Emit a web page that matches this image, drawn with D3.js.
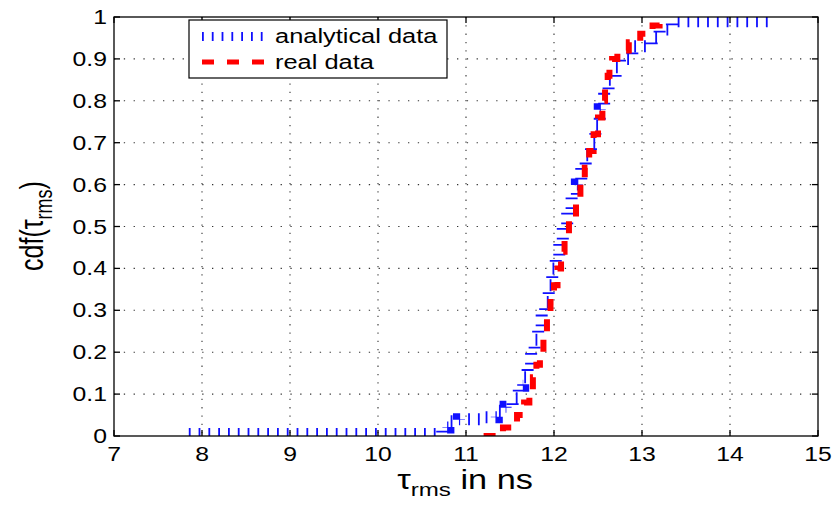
<!DOCTYPE html>
<html>
<head>
<meta charset="utf-8">
<script src="https://d3js.org/d3.v7.min.js"></script>
<style>
  body { margin: 0; background: #fff; }
  text { font-family: "Liberation Sans", Arial, sans-serif; fill: #000; }
</style>
</head>
<body>
<script>
// Data
// analytical cdf: step positions (ns) and levels after each step
const analyticalX = [7.85, 10.73, 10.8, 10.92, 11.05, 11.2, 11.35, 11.45, 11.53, 11.6, 11.65, 11.7, 11.74,
  11.78, 11.82, 11.86, 11.9, 11.94, 11.98, 12.02, 12.06, 12.1, 12.15, 12.2, 12.26, 12.31, 12.36, 12.42,
  12.47, 12.52, 12.57, 12.62, 12.7, 12.75, 12.89, 13.11, 13.2, 13.34, 14.45];
const analyticalY = [0.005, 0.02, 0.035, 0.04, 0.04, 0.045, 0.06, 0.07, 0.09, 0.12, 0.14, 0.17, 0.2,
  0.23, 0.26, 0.29, 0.32, 0.36, 0.4, 0.43, 0.46, 0.5, 0.54, 0.57, 0.6, 0.64, 0.67, 0.7,
  0.74, 0.78, 0.82, 0.85, 0.88, 0.9, 0.93, 0.95, 0.97, 0.99, 0.99];

// measured cdf
const realX = [11.2, 11.42, 11.58, 11.66, 11.72, 11.76, 11.8, 11.84, 11.88, 11.92, 11.96, 12.0, 12.04,
  12.08, 12.12, 12.17, 12.25, 12.3, 12.35, 12.4, 12.45, 12.5, 12.55, 12.58, 12.61, 12.63, 12.66,
  12.72, 12.85, 12.98, 13.12, 13.2];
const realY = [0, 0.02, 0.05, 0.08, 0.11, 0.14, 0.17, 0.2, 0.24, 0.28, 0.32, 0.36, 0.4,
  0.44, 0.48, 0.52, 0.56, 0.6, 0.64, 0.68, 0.72, 0.76, 0.8, 0.83, 0.86, 0.88, 0.9,
  0.92, 0.94, 0.96, 0.98, 1.0];

const xTicks = [7, 8, 9, 10, 11, 12, 13, 14, 15];
const yTicks = [0, 0.1, 0.2, 0.3, 0.4, 0.5, 0.6, 0.7, 0.8, 0.9, 1];
const legendLabels = ["analytical data", "real data"];

// Dimensions
const W = 836, H = 509;
const pLeft = 114, pRight = 818, pTop = 17, pBottom = 436;
const stretch = 1.27; // text in the picture is widened

const svg = d3.select("body").append("svg")
  .attr("width", W).attr("height", H);

const x = d3.scaleLinear().domain([7, 15]).range([pLeft, pRight]);
const y = d3.scaleLinear().domain([0, 1]).range([pBottom, pTop]);

// helper for widened text
function label(g, px, py, str, anchor, size) {
  return g.append("text")
    .attr("transform", `translate(${px},${py}) scale(${stretch},1)`)
    .attr("text-anchor", anchor)
    .style("font-size", size + "px")
    .text(str);
}

svg.append("defs").append("clipPath").attr("id", "plotclip")
  .append("rect").attr("x", pLeft).attr("y", pTop)
  .attr("width", pRight - pLeft).attr("height", pBottom - pTop);

// grid
const grid = svg.append("g");
grid.selectAll(".gx").data(xTicks.slice(1, -1)).enter().append("line")
  .attr("x1", d => x(d)).attr("x2", d => x(d))
  .attr("y1", pTop).attr("y2", pBottom)
  .attr("stroke", "#333").attr("stroke-width", 1.1).attr("stroke-dasharray", "1.3,7");
grid.selectAll(".gy").data(yTicks.slice(1, -1)).enter().append("line")
  .attr("x1", pLeft).attr("x2", pRight)
  .attr("y1", d => y(d)).attr("y2", d => y(d))
  .attr("stroke", "#333").attr("stroke-width", 1.1).attr("stroke-dasharray", "1.3,8.5");

// curves
const stairs = d3.line().x(d => x(d[0])).y(d => y(d[1])).curve(d3.curveStepAfter);
const plot = svg.append("g").attr("clip-path", "url(#plotclip)");

plot.append("path")
  .datum(analyticalX.map((v, i) => [v, analyticalY[i]]))
  .attr("fill", "none").attr("stroke", "#1010ff")
  .attr("stroke-width", 12).attr("stroke-dasharray", "1.8,8")
  .attr("d", stairs);

plot.append("path")
  .datum(realX.map((v, i) => [v, realY[i]]))
  .attr("fill", "none").attr("stroke", "#ff0000")
  .attr("stroke-width", 6).attr("stroke-dasharray", "12,12")
  .attr("d", stairs);

// axes box and ticks
const ax = svg.append("g").attr("stroke", "#000").attr("stroke-width", 1.3);
ax.append("rect").attr("x", pLeft).attr("y", pTop)
  .attr("width", pRight - pLeft).attr("height", pBottom - pTop).attr("fill", "none");
const tl = 6;
xTicks.forEach(t => {
  ax.append("line").attr("x1", x(t)).attr("x2", x(t)).attr("y1", pBottom).attr("y2", pBottom - tl);
  ax.append("line").attr("x1", x(t)).attr("x2", x(t)).attr("y1", pTop).attr("y2", pTop + tl);
});
yTicks.forEach(t => {
  ax.append("line").attr("x1", pLeft).attr("x2", pLeft + tl).attr("y1", y(t)).attr("y2", y(t));
  ax.append("line").attr("x1", pRight).attr("x2", pRight - tl).attr("y1", y(t)).attr("y2", y(t));
});

// tick labels
const tg = svg.append("g");
xTicks.forEach(t => label(tg, x(t), pBottom + 25, d3.format("d")(t), "middle", 19.5));
yTicks.forEach(t => label(tg, pLeft - 7, y(t) + 7, t === 0 || t === 1 ? String(t) : d3.format(".1f")(t), "end", 19.5));

// axis titles
const xt = svg.append("text")
  .attr("transform", `translate(465,489) scale(${stretch},1)`)
  .attr("text-anchor", "middle").style("font-size", "27px");
xt.append("tspan").text("τ");
xt.append("tspan").attr("dy", 7).style("font-size", "19px").text("rms");
xt.append("tspan").attr("dy", -7).text(" in ns");

const yt = svg.append("text")
  .attr("transform", `translate(43,226) rotate(-90) scale(1,1.35)`)
  .attr("text-anchor", "middle").style("font-size", "25px");
yt.append("tspan").text("cdf(τ");
yt.append("tspan").attr("dy", 7).style("font-size", "18px").text("rms");
yt.append("tspan").attr("dy", -7).text(")");

// legend
const lg = svg.append("g");
lg.append("rect").attr("x", 189).attr("y", 20).attr("width", 258).attr("height", 58)
  .attr("fill", "#fff").attr("stroke", "#000").attr("stroke-width", 1.2);
lg.append("line").attr("x1", 202).attr("x2", 264).attr("y1", 36.5).attr("y2", 36.5)
  .attr("stroke", "#1010ff").attr("stroke-width", 9).attr("stroke-dasharray", "1.8,8");
lg.append("line").attr("x1", 202).attr("x2", 268).attr("y1", 62).attr("y2", 62)
  .attr("stroke", "#ff0000").attr("stroke-width", 5).attr("stroke-dasharray", "12,13");
label(lg, 275, 43, legendLabels[0], "start", 20);
label(lg, 275, 69, legendLabels[1], "start", 20);
</script>
</body>
</html>
